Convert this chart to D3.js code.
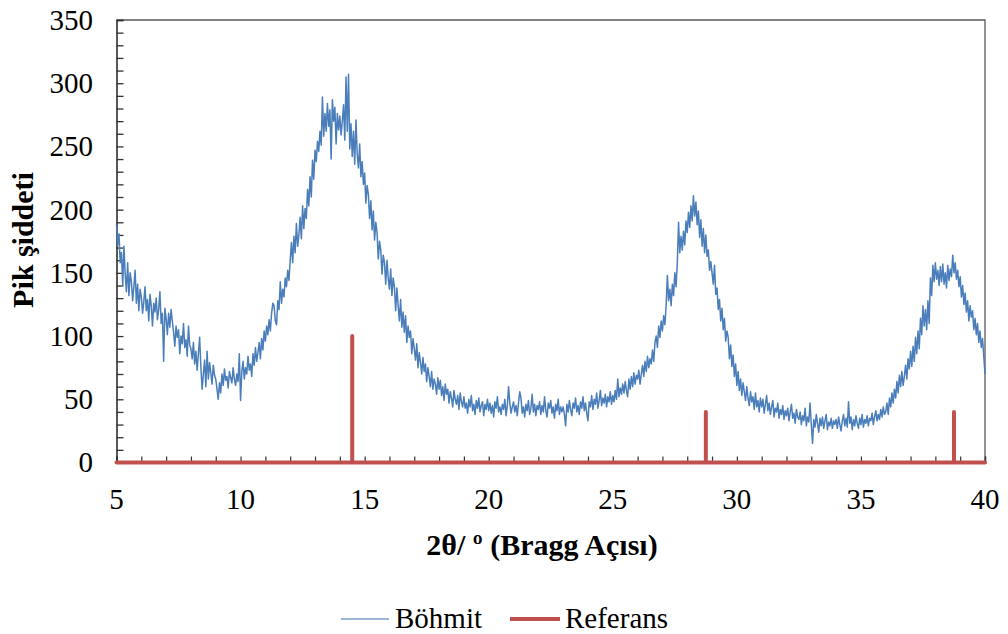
<!DOCTYPE html>
<html>
<head>
<meta charset="utf-8">
<script src="https://cdn.jsdelivr.net/npm/d3@7"></script>
<style>
  html, body { margin: 0; padding: 0; background: #ffffff; }
  svg { display: block; }
  text { font-family: "Liberation Serif", "Times New Roman", serif; fill: #000; }
</style>
</head>
<body>
<svg id="chart" width="1008" height="634"></svg>
<script>
// XRD pattern of the boehmite sample, sampled every 0.05 degrees from 5 to 40 (2θ)
const twoThetaStart = 5;
const twoThetaStep = 0.05;
const bohmitIntensity = [
  // 5
  188,172,181,158,166,140,171,149,135,158,132,150,143,128,139,152,126,141,120,137,
  // 6
  131,118,127,139,120,129,112,133,124,108,126,119,130,113,121,135,110,118,80,122,
  // 7
  114,101,118,107,121,112,103,92,108,99,105,86,100,94,110,91,97,84,108,93,
  // 8
  90,82,95,78,88,73,86,99,76,58,70,81,60,88,66,79,71,62,77,69,
  // 9
  66,58,50,63,55,70,61,74,65,68,59,72,67,63,75,66,61,70,64,86,
  // 10
  49,72,80,66,75,70,84,73,78,68,86,77,91,80,87,95,82,98,89,104,
  // 11
  96,108,101,113,104,118,126,124,112,109,128,121,143,126,137,131,146,139,152,144,
  // 12
  160,174,158,179,166,189,171,180,194,177,203,185,201,193,216,203,226,210,239,224,
  // 13
  247,238,254,246,262,251,289,258,276,262,284,266,279,240,287,270,281,252,276,263,
  // 14
  274,259,270,283,255,305,262,307,248,268,242,262,236,271,244,233,252,226,238,220,
  // 15
  229,205,219,212,193,207,184,199,176,190,182,161,175,168,149,164,158,141,160,146,
  // 16
  137,153,132,146,139,120,138,124,112,129,107,119,103,116,95,108,99,104,86,98,
  // 17
  90,81,94,75,87,79,70,83,72,78,64,75,68,60,72,58,66,62,54,67,
  // 18
  58,65,53,60,49,62,54,58,47,56,51,44,57,50,46,53,42,55,48,44,
  // 19
  52,43,47,39,50,44,53,41,46,38,49,43,51,40,45,48,37,46,42,50,
  // 20
  41,47,39,45,36,48,43,52,40,44,38,46,42,50,37,45,60,47,39,44,
  // 21
  48,40,45,37,47,56,51,39,44,36,46,41,49,38,43,54,40,46,37,45,
  // 22
  42,48,38,45,40,52,41,36,47,43,49,39,44,35,46,41,50,38,44,40,
  // 23
  44,38,29,46,40,49,42,37,47,43,51,40,45,38,48,43,52,41,47,39,
  // 24
  33,48,44,53,42,50,46,55,43,49,57,45,51,47,54,44,52,48,56,46,
  // 25
  53,48,57,50,66,52,59,54,62,55,64,57,52,66,58,68,60,71,62,69,
  // 26
  66,73,62,70,77,68,80,72,84,75,82,78,89,80,95,100,91,108,99,112,
  // 27
  104,116,109,124,148,128,137,124,141,132,150,139,158,190,166,179,168,183,172,191,
  // 28
  182,198,186,203,191,211,195,206,188,199,178,192,171,185,166,180,163,168,152,159,
  // 29
  150,141,156,133,138,121,129,112,122,105,114,96,104,99,82,93,76,85,68,78,
  // 30
  61,72,57,66,53,63,56,49,60,51,45,56,48,52,42,55,44,49,40,51,
  // 31
  44,50,39,46,53,41,47,38,44,49,36,43,40,47,35,42,38,45,34,41,
  // 32
  37,43,33,40,46,35,39,31,42,36,34,40,30,37,33,43,29,36,32,47,
  // 33
  30,15,34,28,38,31,24,35,29,36,27,33,38,26,32,29,35,27,33,30,
  // 34
  34,27,36,30,25,33,38,29,35,28,48,31,36,26,34,29,37,31,27,35,
  // 35
  30,38,28,34,31,37,29,35,33,39,30,36,41,33,38,34,42,36,44,38,
  // 36
  40,47,38,51,44,55,47,58,51,64,55,69,60,72,61,68,77,66,82,74,
  // 37
  88,76,92,80,99,86,104,90,114,101,124,108,121,105,128,110,146,132,156,143,
  // 38
  158,145,152,140,155,143,157,141,150,138,156,144,153,147,164,150,158,145,152,139,
  // 39
  147,131,140,125,134,119,128,112,124,115,120,105,114,101,110,95,104,91,98,84,
  // 40
  70
];

// Reference (standard) boehmite reflections
const refPositions = [14.5, 28.75, 38.75];
const refIntensities = [100, 40, 40];

const xTicks = [5, 10, 15, 20, 25, 30, 35, 40];
const yTicks = [0, 50, 100, 150, 200, 250, 300, 350];
const seriesNames = ["Böhmit", "Referans"];
const seriesColors = ["#4A7EBB", "#C0504D"];
const xTitle = "2θ/ º (Bragg Açısı)";
const yTitle = "Pik şiddeti";

const svg = d3.select("#chart");
const plot = { left: 116.5, right: 985, top: 20, bottom: 462.5 };

const x = d3.scaleLinear().domain([5, 40]).range([plot.left, plot.right]);
const y = d3.scaleLinear().domain([0, 350]).range([plot.bottom, plot.top]);

// Frame on the top and right
svg.append("path")
  .attr("d", `M${plot.left},${plot.top}H${plot.right}V${plot.bottom}`)
  .attr("fill", "none")
  .attr("stroke", "#595959")
  .attr("stroke-width", 1.3);

// Y axis: inward minor ticks every 10
const yAxis = d3.axisLeft(y)
  .tickValues(d3.range(0, 351, 10))
  .tickSize(-7)
  .tickFormat("");
const gy = svg.append("g").attr("transform", `translate(${plot.left},0)`).call(yAxis);
gy.select(".domain").attr("stroke", "#222").attr("stroke-width", 1.5);
gy.selectAll(".tick line").attr("stroke", "#333").attr("stroke-width", 1.3);

// X axis: inward ticks every degree
const xAxis = d3.axisBottom(x)
  .tickValues(d3.range(5, 40.01, 1))
  .tickSize(-6)
  .tickFormat("");
const gx = svg.append("g").attr("transform", `translate(0,${plot.bottom})`).call(xAxis);
gx.select(".domain").attr("stroke", "#222").attr("stroke-width", 1.3);
gx.selectAll(".tick line").attr("stroke", "#333").attr("stroke-width", 1.2);

// Tick labels
svg.append("g").selectAll("text").data(yTicks).join("text")
  .attr("x", 93)
  .attr("y", d => y(d))
  .attr("dy", "0.34em")
  .attr("text-anchor", "end")
  .attr("font-size", 29)
  .text(d => d);

svg.append("g").selectAll("text").data(xTicks).join("text")
  .attr("x", d => x(d))
  .attr("y", 509)
  .attr("text-anchor", "middle")
  .attr("font-size", 29)
  .text(d => d);

// Axis titles
svg.append("text")
  .attr("x", 542)
  .attr("y", 555)
  .attr("text-anchor", "middle")
  .attr("font-size", 30)
  .attr("font-weight", "bold")
  .text(xTitle);

svg.append("text")
  .attr("transform", `translate(33,240) rotate(-90)`)
  .attr("text-anchor", "middle")
  .attr("font-size", 30)
  .attr("font-weight", "bold")
  .text(yTitle);

// Measured pattern
const bohmitData = bohmitIntensity.map((v, i) => [twoThetaStart + i * twoThetaStep, v]);
const line = d3.line().x(d => x(d[0])).y(d => y(d[1]));

svg.append("path")
  .datum(bohmitData)
  .attr("d", line)
  .attr("fill", "none")
  .attr("stroke", seriesColors[0])
  .attr("stroke-width", 1.5)
  .attr("stroke-linejoin", "round");

// Reference stick pattern drawn as a baseline with vertical reflections
const refData = [[5, 0]];
refPositions.forEach((p, i) => {
  refData.push([p, 0], [p, refIntensities[i]], [p, 0]);
});
refData.push([40, 0]);

svg.append("path")
  .datum(refData)
  .attr("d", line)
  .attr("fill", "none")
  .attr("stroke", seriesColors[1])
  .attr("stroke-width", 4)
  .attr("stroke-linejoin", "round")
  .attr("stroke-linecap", "round");

// Legend
const legendItems = [
  { name: seriesNames[0], color: seriesColors[0], width: 1.5, x1: 341, x2: 389, tx: 395 },
  { name: seriesNames[1], color: seriesColors[1], width: 4, x1: 510, x2: 560, tx: 565 }
];
const lg = svg.append("g");
legendItems.forEach(it => {
  lg.append("line")
    .attr("x1", it.x1).attr("x2", it.x2)
    .attr("y1", 619).attr("y2", 619)
    .attr("stroke", it.color)
    .attr("stroke-width", it.width)
    .attr("opacity", it.width < 2 ? 0.75 : 1);
  lg.append("text")
    .attr("x", it.tx)
    .attr("y", 628)
    .attr("font-size", 29)
    .text(it.name);
});
</script>
</body>
</html>
